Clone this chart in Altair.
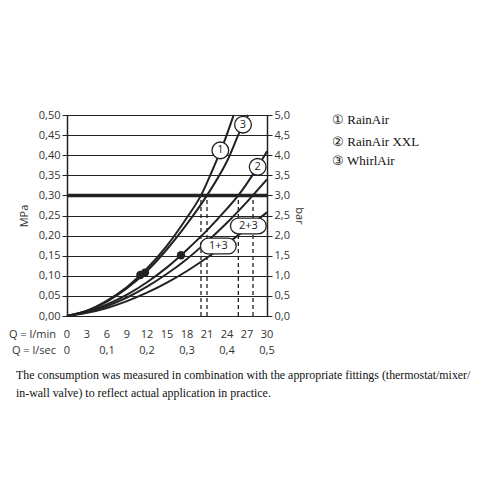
import altair as alt
import pandas as pd

# ---- data ----
q_min_ticks = [0, 3, 6, 9, 12, 15, 18, 21, 24, 27, 30]
q_sec_pos = [0, 6, 12, 18, 24, 30]
q_sec_labels = ["0", "0,1", "0,2", "0,3", "0,4", "0,5"]
mpa_ticks = [0.0, 0.05, 0.10, 0.15, 0.20, 0.25, 0.30, 0.35, 0.40, 0.45, 0.50]

curve_names = ["1", "3", "2", "2+3", "1+3"]
c1_q = [0, 3, 6, 9, 12, 15, 18, 20.1, 22, 23.5, 25]
c1_p = [0, 0.013, 0.038, 0.072, 0.118, 0.175, 0.245, 0.300, 0.370, 0.430, 0.500]
c3_q = [0, 3, 6, 9, 12, 15, 18, 21, 24, 26.4, 27.2]
c3_p = [0, 0.013, 0.036, 0.069, 0.112, 0.166, 0.229, 0.300, 0.385, 0.476, 0.500]
c2_q = [0, 3, 6, 9, 12, 15, 18, 21, 24, 25.7, 27, 28.6, 30]
c2_p = [0, 0.011, 0.029, 0.053, 0.084, 0.121, 0.165, 0.213, 0.267, 0.300, 0.330, 0.371, 0.410]
c23_q = [0, 3, 6, 9, 12, 15, 18, 21, 24, 27, 30]
c23_p = [0, 0.010, 0.025, 0.046, 0.073, 0.105, 0.142, 0.185, 0.232, 0.284, 0.340]
c13_q = [0, 3, 6, 9, 12, 15, 18, 21, 24, 27, 30]
c13_p = [0, 0.008, 0.020, 0.037, 0.058, 0.083, 0.112, 0.145, 0.180, 0.218, 0.258]

dots_q = [11.0, 11.7, 17.1]
dots_p = [0.102, 0.108, 0.151]
cross_q = [20.1, 21.0, 25.7, 27.9]
limit_p = 0.30

circ_labels = ["1", "3", "2"]
circ_q = [23.0, 26.4, 28.6]
circ_p = [0.412, 0.476, 0.371]
box_labels = ["1+3", "2+3"]
box_q = [22.7, 27.2]
box_p = [0.174, 0.224]

legend_items = ["\u2460 RainAir", "\u2461 RainAir XXL", "\u2462 WhirlAir"]
footer_lines = [
    "The consumption was measured in combination with the appropriate fittings (thermostat/mixer/",
    "in-wall valve) to reflect actual application in practice.",
]

# ---- tables ----
rows = []
for name, qs, ps in zip(curve_names, [c1_q, c3_q, c2_q, c23_q, c13_q],
                        [c1_p, c3_p, c2_p, c23_p, c13_p]):
    for i, (q, p) in enumerate(zip(qs, ps)):
        rows.append({"curve": name, "Q": q, "p": p, "i": i})
curves_df = pd.DataFrame(rows)
dots_df = pd.DataFrame({"Q": dots_q, "p": dots_p})
cross_df = pd.DataFrame({"Q": cross_q, "p0": [0.0] * len(cross_q), "p": [limit_p] * len(cross_q)})
limit_df = pd.DataFrame({"p": [limit_p]})
circ_df = pd.DataFrame({"t": circ_labels, "Q": circ_q, "p": circ_p})
box_df = pd.DataFrame({"t": box_labels, "Q": box_q, "p": box_p})
lmin_df = pd.DataFrame({"Q": q_min_ticks, "t": [str(v) for v in q_min_ticks]})
lsec_df = pd.DataFrame({"Q": q_sec_pos, "t": q_sec_labels})

SANS = "Open Sans"
SERIF = "Liberation Serif"
INK = "#222222"

xs = alt.Scale(domain=[0, 30], nice=False, zero=False)
ys = alt.Scale(domain=[0, 0.5], nice=False)

x_axis = alt.Axis(values=q_min_ticks, grid=True, gridColor=INK, gridWidth=1.2,
                  labels=False, ticks=False, domain=False, title=None)
y_left = alt.Axis(values=mpa_ticks, grid=True, gridColor=INK, gridWidth=1.2,
                  orient="left", tickSize=5, tickColor=INK, domainColor=INK,
                  domainWidth=1.5, labelFont=SANS, labelFontSize=11, labelColor="#333",
                  labelPadding=2,
                  labelExpr="replace(format(datum.value, '.2f'), '.', ',')",
                  title="MPa", titleFont=SANS, titleFontSize=11, titleFontWeight="normal",
                  titleColor="#333", titlePadding=9)
y_right = alt.Axis(values=mpa_ticks, grid=False, orient="right", tickSize=5,
                   tickColor=INK, domainColor=INK, domainWidth=1.5,
                   labelFont=SANS, labelFontSize=11, labelColor="#333", labelPadding=2,
                   labelExpr="replace(format(datum.value * 10, '.1f'), '.', ',')",
                   title="bar", titleFont=SANS, titleFontSize=11, titleFontWeight="normal",
                   titleColor="#333", titlePadding=4)

lines = alt.Chart(curves_df).mark_line(interpolate="monotone", color=INK, strokeWidth=2).encode(
    x=alt.X("Q:Q", scale=xs, axis=x_axis),
    y=alt.Y("p:Q", scale=ys, axis=y_left),
    detail="curve:N",
    order="i:Q",
)

limit = alt.Chart(limit_df).mark_rule(color=INK, strokeWidth=3.5).encode(
    y=alt.Y("p:Q", scale=ys, axis=y_right),
)

dashed = alt.Chart(cross_df).mark_rule(color=INK, strokeWidth=1.3, strokeDash=[4, 3]).encode(
    x=alt.X("Q:Q", scale=xs, axis=None),
    y=alt.Y("p0:Q", scale=ys, axis=None),
    y2="p:Q",
)

dots = alt.Chart(dots_df).mark_point(shape="circle", filled=True, color=INK, size=70, opacity=1).encode(
    x=alt.X("Q:Q", scale=xs, axis=None),
    y=alt.Y("p:Q", scale=ys, axis=None),
)

circ_bg = alt.Chart(circ_df).mark_point(shape="circle", filled=True, fill="white", stroke=INK,
                                         strokeWidth=1.3, size=280, opacity=1).encode(
    x=alt.X("Q:Q", scale=xs, axis=None),
    y=alt.Y("p:Q", scale=ys, axis=None),
)
circ_txt = alt.Chart(circ_df).mark_text(font=SANS, fontSize=11, color=INK, baseline="middle").encode(
    x=alt.X("Q:Q", scale=xs, axis=None),
    y=alt.Y("p:Q", scale=ys, axis=None),
    text="t:N",
)

pill = "M-0.63,-0.5L0.63,-0.5A0.5,0.5,0,0,1,0.63,0.5L-0.63,0.5A0.5,0.5,0,0,1,-0.63,-0.5Z"
box_bg = alt.Chart(box_df).mark_point(shape=pill, filled=True, fill="white", stroke=INK,
                                       strokeWidth=1.3, size=1000, opacity=1).encode(
    x=alt.X("Q:Q", scale=xs, axis=None),
    y=alt.Y("p:Q", scale=ys, axis=None),
)
box_txt = alt.Chart(box_df).mark_text(font=SANS, fontSize=11, color=INK, baseline="middle").encode(
    x=alt.X("Q:Q", scale=xs, axis=None),
    y=alt.Y("p:Q", scale=ys, axis=None),
    text="t:N",
)

lmin = alt.Chart(lmin_df).mark_text(font=SANS, fontSize=11, color="#333", baseline="middle").encode(
    x=alt.X("Q:Q", scale=xs, axis=None),
    y=alt.value(220),
    text="t:N",
)
lsec = alt.Chart(lsec_df).mark_text(font=SANS, fontSize=11, color="#333", baseline="middle").encode(
    x=alt.X("Q:Q", scale=xs, axis=None),
    y=alt.value(236),
    text="t:N",
)
pre1 = alt.Chart(pd.DataFrame({"t": ["Q = l/min"]})).mark_text(
    font=SANS, fontSize=11, color="#333", align="right", baseline="middle").encode(
    x=alt.value(-11), y=alt.value(220), text="t:N")
pre2 = alt.Chart(pd.DataFrame({"t": ["Q = l/sec"]})).mark_text(
    font=SANS, fontSize=11, color="#333", align="right", baseline="middle").encode(
    x=alt.value(-11), y=alt.value(236), text="t:N")

legend_layers = []
for txt, yy in zip(legend_items, [5, 26.5, 46]):
    legend_layers.append(
        alt.Chart(pd.DataFrame({"t": [txt]})).mark_text(
            font=SERIF, fontSize=13, color="#111", align="left", baseline="middle").encode(
            x=alt.value(265), y=alt.value(yy), text="t:N"))

footer_layers = []
for txt, yy in zip(footer_lines, [260, 278]):
    footer_layers.append(
        alt.Chart(pd.DataFrame({"t": [txt]})).mark_text(
            font=SERIF, fontSize=11.9, color="#111", align="left", baseline="middle").encode(
            x=alt.value(-51), y=alt.value(yy), text="t:N"))

chart = alt.layer(
    lines, limit, dashed, dots, circ_bg, circ_txt, box_bg, box_txt,
    lmin, lsec, pre1, pre2, *legend_layers, *footer_layers,
).resolve_axis(y="independent").properties(
    width=200, height=201,
    autosize=alt.AutoSizeParams(type="none"),
    padding={"left": 59, "top": 107, "right": 225, "bottom": 176},
).configure_view(stroke=None)

chart.save("out.html", embed_options={"renderer": "svg", "actions": False})
